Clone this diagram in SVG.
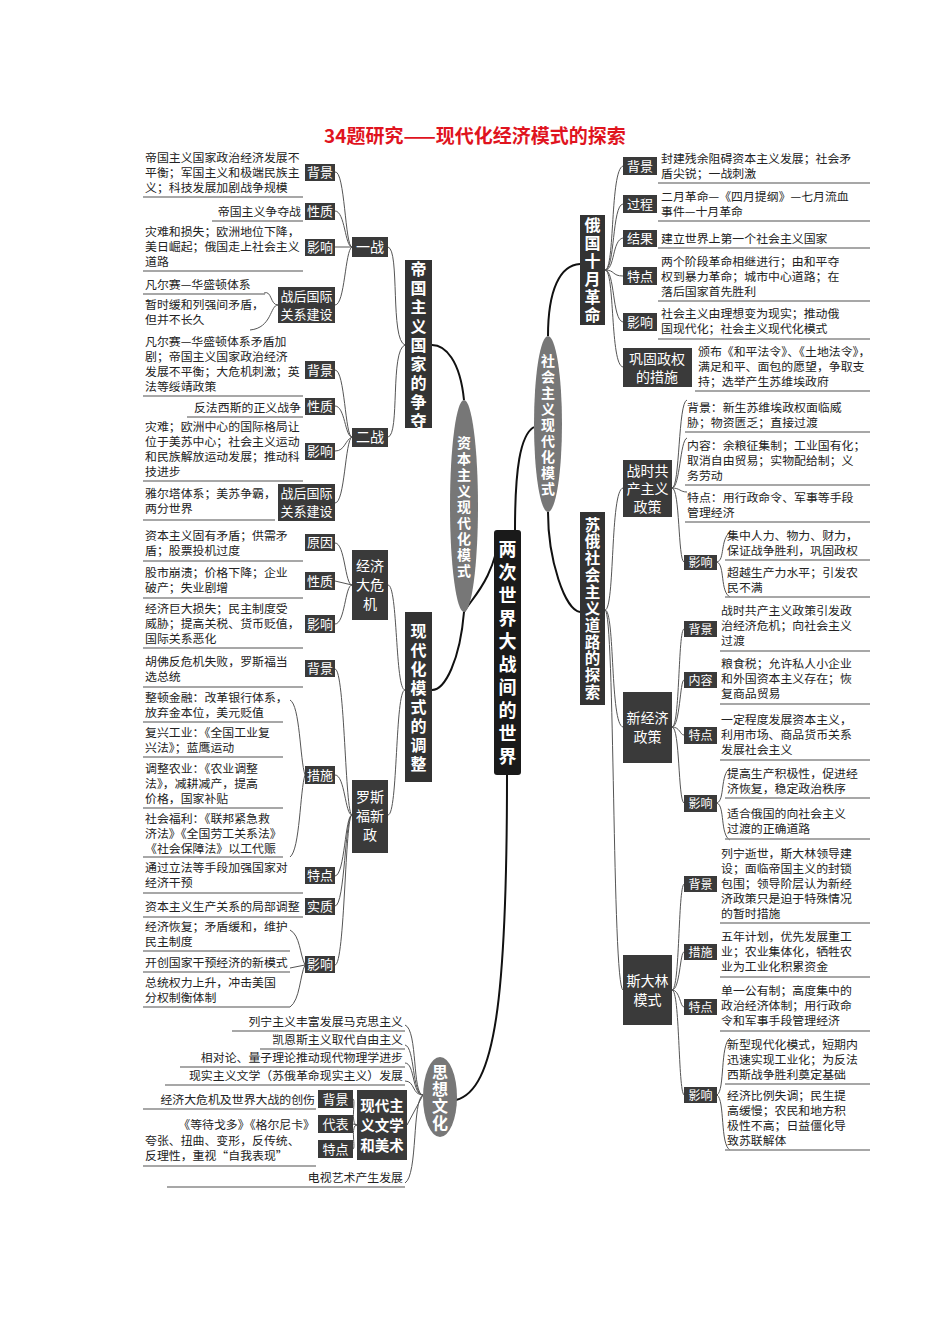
<svg xmlns="http://www.w3.org/2000/svg" width="950" height="1344" viewBox="0 0 950 1344">
<style>
.t{font-family:"Noto Sans CJK SC","Noto Sans",sans-serif;font-size:11.9px;fill:#222}
.r{text-anchor:end}
.lb rect,.bx rect{fill:#3a3a3a}
.lb text{font-family:"Noto Sans CJK SC",sans-serif;font-size:13px;fill:#fff;text-anchor:middle}
.bx text{font-family:"Noto Sans CJK SC",sans-serif;font-size:14px;fill:#fff;text-anchor:middle}
.v{font-family:"Noto Sans CJK SC",sans-serif;font-weight:bold;fill:#fff;text-anchor:middle;writing-mode:vertical-rl}
.u line{stroke:#8a8a8a;stroke-width:1.3}
.c path{stroke:#555;stroke-width:1;fill:none}
.m path{stroke:#111;stroke-width:2;fill:none}
</style>
<rect width="950" height="1344" fill="#fff"/>
<text x="475" y="143" text-anchor="middle" style="font-family:'Noto Sans CJK SC',sans-serif;font-size:19px;font-weight:bold;fill:#e0141e">34题研究——现代化经济模式的探索</text>

<g class="m" id="main-connectors">
<path d="M500,530 C495,580 470,600 464,612"/>
<path d="M515,530 C515,470 520,435 534,427"/>
<path d="M507,775 C507,1000 495,1090 456,1100"/>
<path d="M464,400 C460,360 445,345 432,345"/>
<path d="M464,612 C460,660 445,690 432,690"/>
<path d="M548,336 C548,290 560,265 580,264"/>
<path d="M548,512 C548,560 565,610 580,612"/>
</g>

<g class="c" id="connectors">
<path d="M405,345 C390,340 400,250 388,247"/>
<path d="M405,345 C390,350 400,435 388,437"/>
<path d="M352,247 C345,247 345,170 335,172"/>
<path d="M352,247 L335,247"/>
<path d="M352,247 C345,247 345,211 335,211"/>
<path d="M352,247 C345,250 345,305 335,305"/>
<path d="M352,437 C345,437 345,370 335,370"/>
<path d="M352,437 C345,437 345,406 335,406"/>
<path d="M352,437 C345,440 345,451 335,451"/>
<path d="M352,437 C345,440 345,503 335,503"/>
<path d="M278,305 C270,305 272,290 264,293"/>
<path d="M278,305 C270,305 272,328 250,330"/>
<path d="M405,690 C395,690 398,585 388,585"/>
<path d="M405,690 C395,690 398,815 388,815"/>
<path d="M352,585 C345,585 345,543 335,543"/>
<path d="M352,585 L335,581"/>
<path d="M352,585 C345,585 345,624 335,624"/>
<path d="M352,815 C345,815 345,670 335,669"/>
<path d="M352,815 C345,815 345,775 335,775"/>
<path d="M352,815 C345,815 345,875 335,876"/>
<path d="M352,815 C345,815 345,906 335,906"/>
<path d="M352,815 C345,815 345,965 335,965"/>
<path d="M305,775 C300,760 300,705 290,700"/>
<path d="M305,775 C300,790 300,850 290,857"/>
<path d="M305,965 C300,955 300,935 290,930"/>
<path d="M305,965 L290,968"/>
<path d="M305,965 C300,975 300,1000 290,1007"/>
<path d="M423,1095 C412,1095 418,1030 405,1025"/>
<path d="M423,1095 C412,1095 415,1047 405,1045"/>
<path d="M423,1095 C412,1095 415,1063 405,1063"/>
<path d="M423,1095 C412,1095 415,1081 405,1081"/>
<path d="M423,1095 L407,1125"/>
<path d="M423,1095 C412,1100 418,1175 405,1183"/>
<path d="M357,1125 C350,1125 356,1099 353,1099"/>
<path d="M357,1125 L353,1124"/>
<path d="M357,1125 C350,1125 356,1149 353,1149"/>
<path d="M605,270 C615,270 610,170 623,166"/>
<path d="M605,270 C615,270 612,205 623,204"/>
<path d="M605,270 C615,270 612,240 623,238"/>
<path d="M605,270 C615,270 612,276 623,276"/>
<path d="M605,270 C615,270 612,320 623,322"/>
<path d="M605,270 C615,270 610,365 623,367"/>
<path d="M605,610 C615,610 610,490 623,488"/>
<path d="M605,610 C615,610 610,725 623,727"/>
<path d="M605,610 C615,610 612,985 623,990"/>
<path d="M672,488 C680,488 678,402 687,400"/>
<path d="M672,488 C680,488 680,440 687,438"/>
<path d="M672,488 C680,488 680,492 687,492"/>
<path d="M672,488 C680,488 678,560 684,562"/>
<path d="M717,562 C725,560 720,540 730,532"/>
<path d="M717,562 C725,565 720,592 730,597"/>
<path d="M672,727 C680,727 678,630 684,629"/>
<path d="M672,727 C680,727 680,680 684,680"/>
<path d="M672,727 C680,727 680,735 684,735"/>
<path d="M672,727 C680,727 678,800 684,803"/>
<path d="M717,803 C725,800 720,775 730,768"/>
<path d="M717,803 C725,806 720,835 730,840"/>
<path d="M672,990 C680,990 678,888 684,884"/>
<path d="M672,990 C680,990 680,952 684,952"/>
<path d="M672,990 C680,990 680,1007 684,1007"/>
<path d="M672,990 C680,990 678,1090 684,1095"/>
<path d="M717,1095 C725,1090 720,1045 730,1038"/>
<path d="M717,1095 C725,1100 720,1145 730,1150"/>
</g>

<g id="center">
<rect x="494" y="530" width="27" height="245" rx="3" fill="#1a1a1a"/>
<text x="507.5" y="655" class="v" style="font-size:18px;letter-spacing:5px">两次世界大战间的世界</text>
</g>
<g id="capitalism">
<ellipse cx="464" cy="506" rx="14" ry="106" fill="#777"/>
<text x="464" y="508" class="v" style="font-size:14px;letter-spacing:2px">资本主义现代化模式</text>
</g>
<g id="socialism">
<ellipse cx="548" cy="424" rx="14" ry="88" fill="#777"/>
<text x="548" y="426" class="v" style="font-size:14px;letter-spacing:2px">社会主义现代化模式</text>
</g>
<g id="culture">
<ellipse cx="440" cy="1097" rx="17" ry="40" fill="#777"/>
<text x="440" y="1098" class="v" style="font-size:16px;letter-spacing:1px">思想文化</text>
</g>

<g id="imperial"><rect x="405" y="260" width="27" height="168" fill="#333"/><text x="418.5" y="346" class="v" style="font-size:16px;letter-spacing:3px">帝国主义国家的争夺</text></g>
<g id="adjust"><rect x="405" y="612" width="27" height="170" fill="#333"/><text x="418.5" y="699" class="v" style="font-size:16px;letter-spacing:3px">现代化模式的调整</text></g>
<g id="october"><rect x="580" y="215" width="25" height="110" fill="#333"/><text x="592.5" y="271" class="v" style="font-size:16px;letter-spacing:2px">俄国十月革命</text></g>
<g id="soviet"><rect x="580" y="512" width="25" height="193" fill="#333"/><text x="592.5" y="609" class="v" style="font-size:15.5px;letter-spacing:1.2px">苏俄社会主义道路的探索</text></g>

<g class="bx" id="ww1"><rect x="352" y="237" width="36" height="20"/><text x="370" y="252">一战</text></g>
<g class="bx" id="ww2"><rect x="352" y="428" width="36" height="19"/><text x="370" y="442">二战</text></g>
<g class="bx" id="crisis"><rect x="352" y="550" width="36" height="70"/><text x="370" y="571">经济</text><text x="370" y="590">大危</text><text x="370" y="609">机</text></g>
<g class="bx" id="newdeal"><rect x="352" y="780" width="36" height="73"/><text x="370" y="802">罗斯</text><text x="370" y="821">福新</text><text x="370" y="840">政</text></g>
<g class="bx" id="modernism"><rect x="357" y="1090" width="50" height="70"/><text x="382" y="1111" style="font-weight:bold;font-size:14.5px">现代主</text><text x="382" y="1131" style="font-weight:bold;font-size:14.5px">义文学</text><text x="382" y="1151" style="font-weight:bold;font-size:14.5px">和美术</text></g>
<g class="bx" id="consolidate"><rect x="623" y="348" width="69" height="39"/><text x="657" y="364">巩固政权</text><text x="657" y="382">的措施</text></g>
<g class="bx" id="warcomm"><rect x="623" y="460" width="49" height="57"/><text x="647.5" y="476">战时共</text><text x="647.5" y="494">产主义</text><text x="647.5" y="512">政策</text></g>
<g class="bx" id="nep"><rect x="623" y="692" width="49" height="71"/><text x="647.5" y="723">新经济</text><text x="647.5" y="742">政策</text></g>
<g class="bx" id="stalin"><rect x="623" y="955" width="49" height="70"/><text x="647.5" y="986">斯大林</text><text x="647.5" y="1005">模式</text></g>

<g class="lb" id="labels">
<rect x="305" y="164" width="30" height="17"/><text x="320" y="177">背景</text>
<rect x="305" y="203" width="30" height="17"/><text x="320" y="216">性质</text>
<rect x="305" y="239" width="30" height="17"/><text x="320" y="252">影响</text>
<rect x="278" y="287" width="57" height="36"/><text x="306.5" y="301">战后国际</text><text x="306.5" y="319">关系建设</text>
<rect x="305" y="361" width="30" height="18"/><text x="320" y="375">背景</text>
<rect x="305" y="398" width="30" height="17"/><text x="320" y="411">性质</text>
<rect x="305" y="443" width="30" height="17"/><text x="320" y="456">影响</text>
<rect x="278" y="484" width="57" height="37"/><text x="306.5" y="498">战后国际</text><text x="306.5" y="516">关系建设</text>
<rect x="305" y="534" width="30" height="17"/><text x="320" y="547">原因</text>
<rect x="305" y="572" width="30" height="18"/><text x="320" y="586">性质</text>
<rect x="305" y="615" width="30" height="18"/><text x="320" y="629">影响</text>
<rect x="305" y="660" width="30" height="17"/><text x="320" y="673">背景</text>
<rect x="305" y="766" width="30" height="18"/><text x="320" y="780">措施</text>
<rect x="305" y="867" width="30" height="17"/><text x="320" y="880">特点</text>
<rect x="305" y="898" width="30" height="17"/><text x="320" y="911">实质</text>
<rect x="305" y="956" width="30" height="17"/><text x="320" y="969">影响</text>
<rect x="318" y="1090" width="35" height="18"/><text x="335.5" y="1104">背景</text>
<rect x="318" y="1115" width="35" height="18"/><text x="335.5" y="1129">代表</text>
<rect x="318" y="1140" width="35" height="18"/><text x="335.5" y="1154">特点</text>
<rect x="623" y="157" width="34" height="18"/><text x="640" y="171">背景</text>
<rect x="623" y="195" width="34" height="18"/><text x="640" y="209">过程</text>
<rect x="623" y="230" width="34" height="17"/><text x="640" y="243">结果</text>
<rect x="623" y="267" width="34" height="18"/><text x="640" y="281">特点</text>
<rect x="623" y="313" width="34" height="18"/><text x="640" y="327">影响</text>
<rect x="684" y="555" width="33" height="15"/><text x="700.5" y="567" style="font-size:12px">影响</text>
<rect x="684" y="621" width="33" height="16"/><text x="700.5" y="634" style="font-size:12px">背景</text>
<rect x="684" y="672" width="33" height="16"/><text x="700.5" y="685" style="font-size:12px">内容</text>
<rect x="684" y="727" width="33" height="17"/><text x="700.5" y="740" style="font-size:12px">特点</text>
<rect x="684" y="795" width="33" height="17"/><text x="700.5" y="808" style="font-size:12px">影响</text>
<rect x="684" y="876" width="33" height="16"/><text x="700.5" y="889" style="font-size:12px">背景</text>
<rect x="684" y="944" width="33" height="16"/><text x="700.5" y="957" style="font-size:12px">措施</text>
<rect x="684" y="999" width="33" height="16"/><text x="700.5" y="1012" style="font-size:12px">特点</text>
<rect x="684" y="1087" width="33" height="16"/><text x="700.5" y="1100" style="font-size:12px">影响</text>
</g>

<g class="u" id="underlines">
<line x1="143" y1="197" x2="303" y2="197"/><line x1="212" y1="221" x2="303" y2="221"/><line x1="143" y1="271" x2="303" y2="271"/><line x1="143" y1="294" x2="265" y2="294"/>
<line x1="143" y1="396" x2="303" y2="396"/><line x1="187" y1="417" x2="303" y2="417"/><line x1="143" y1="481" x2="303" y2="481"/><line x1="143" y1="520" x2="275" y2="520"/>
<line x1="143" y1="561" x2="303" y2="561"/><line x1="143" y1="598" x2="303" y2="598"/><line x1="143" y1="648" x2="303" y2="648"/><line x1="143" y1="687" x2="303" y2="687"/>
<line x1="143" y1="722" x2="283" y2="722"/><line x1="143" y1="757" x2="283" y2="757"/><line x1="143" y1="808" x2="283" y2="808"/><line x1="143" y1="857" x2="283" y2="857"/>
<line x1="143" y1="893" x2="303" y2="893"/><line x1="143" y1="917" x2="303" y2="917"/><line x1="143" y1="951" x2="290" y2="951"/><line x1="143" y1="972" x2="290" y2="972"/><line x1="143" y1="1007" x2="290" y2="1007"/>
<line x1="232" y1="1031" x2="405" y2="1031"/><line x1="260" y1="1049" x2="405" y2="1049"/><line x1="180" y1="1067" x2="405" y2="1067"/><line x1="165" y1="1085" x2="405" y2="1085"/>
<line x1="143" y1="1109" x2="316" y2="1109"/><line x1="143" y1="1166" x2="316" y2="1166"/><line x1="167" y1="1187" x2="405" y2="1187"/>
<line x1="658" y1="183" x2="870" y2="183"/><line x1="658" y1="221" x2="870" y2="221"/><line x1="658" y1="248" x2="870" y2="248"/><line x1="658" y1="301" x2="870" y2="301"/><line x1="658" y1="339" x2="870" y2="339"/><line x1="695" y1="391" x2="870" y2="391"/>
<line x1="685" y1="432" x2="870" y2="432"/><line x1="685" y1="485" x2="870" y2="485"/><line x1="685" y1="522" x2="870" y2="522"/><line x1="725" y1="560" x2="870" y2="560"/><line x1="725" y1="597" x2="870" y2="597"/>
<line x1="720" y1="651" x2="870" y2="651"/><line x1="720" y1="704" x2="870" y2="704"/><line x1="720" y1="760" x2="870" y2="760"/><line x1="725" y1="798" x2="870" y2="798"/><line x1="725" y1="839" x2="870" y2="839"/>
<line x1="720" y1="923" x2="870" y2="923"/><line x1="720" y1="977" x2="870" y2="977"/><line x1="720" y1="1031" x2="870" y2="1031"/><line x1="725" y1="1084" x2="870" y2="1084"/><line x1="725" y1="1150" x2="870" y2="1150"/>
</g>

<g id="texts">
<text class="t" x="145" y="162">帝国主义国家政治经济发展不</text><text class="t" x="145" y="177">平衡；军国主义和极端民族主</text><text class="t" x="145" y="192">义；科技发展加剧战争规模</text>
<text class="t r" x="301" y="216">帝国主义争夺战</text>
<text class="t" x="145" y="236">灾难和损失；欧洲地位下降，</text><text class="t" x="145" y="251">美日崛起；俄国走上社会主义</text><text class="t" x="145" y="266">道路</text>
<text class="t" x="145" y="289">凡尔赛—华盛顿体系</text><text class="t" x="145" y="309">暂时缓和列强间矛盾，</text><text class="t" x="145" y="324">但并不长久</text>
<text class="t" x="145" y="346">凡尔赛—华盛顿体系矛盾加</text><text class="t" x="145" y="361">剧；帝国主义国家政治经济</text><text class="t" x="145" y="376">发展不平衡；大危机刺激；英</text><text class="t" x="145" y="391">法等绥靖政策</text>
<text class="t r" x="301" y="412">反法西斯的正义战争</text>
<text class="t" x="145" y="431">灾难；欧洲中心的国际格局让</text><text class="t" x="145" y="446">位于美苏中心；社会主义运动</text><text class="t" x="145" y="461">和民族解放运动发展；推动科</text><text class="t" x="145" y="476">技进步</text>
<text class="t" x="145" y="498">雅尔塔体系；美苏争霸，</text><text class="t" x="145" y="513">两分世界</text>
<text class="t" x="145" y="540">资本主义固有矛盾；供需矛</text><text class="t" x="145" y="555">盾；股票投机过度</text>
<text class="t" x="145" y="577">股市崩溃；价格下降；企业</text><text class="t" x="145" y="592">破产；失业剧增</text>
<text class="t" x="145" y="613">经济巨大损失；民主制度受</text><text class="t" x="145" y="628">威胁；提高关税、货币贬值，</text><text class="t" x="145" y="643">国际关系恶化</text>
<text class="t" x="145" y="666">胡佛反危机失败，罗斯福当</text><text class="t" x="145" y="681">选总统</text>
<text class="t" x="145" y="702">整顿金融：改革银行体系，</text><text class="t" x="145" y="717">放弃金本位，美元贬值</text>
<text class="t" x="145" y="737">复兴工业：《全国工业复</text><text class="t" x="145" y="752">兴法》；蓝鹰运动</text>
<text class="t" x="145" y="773">调整农业：《农业调整</text><text class="t" x="145" y="788">法》，减耕减产，提高</text><text class="t" x="145" y="803">价格，国家补贴</text>
<text class="t" x="145" y="823">社会福利：《联邦紧急救</text><text class="t" x="145" y="838">济法》《全国劳工关系法》</text><text class="t" x="145" y="853">《社会保障法》以工代赈</text>
<text class="t" x="145" y="872">通过立法等手段加强国家对</text><text class="t" x="145" y="887">经济干预</text>
<text class="t" x="145" y="911">资本主义生产关系的局部调整</text>
<text class="t" x="145" y="931">经济恢复；矛盾缓和，维护</text><text class="t" x="145" y="946">民主制度</text>
<text class="t" x="145" y="967">开创国家干预经济的新模式</text>
<text class="t" x="145" y="987">总统权力上升，冲击美国</text><text class="t" x="145" y="1002">分权制衡体制</text>
<text class="t r" x="403" y="1026">列宁主义丰富发展马克思主义</text>
<text class="t r" x="403" y="1044">凯恩斯主义取代自由主义</text>
<text class="t r" x="403" y="1062">相对论、量子理论推动现代物理学进步</text>
<text class="t r" x="403" y="1080">现实主义文学（苏俄革命现实主义）发展</text>
<text class="t r" x="315" y="1104">经济大危机及世界大战的创伤</text>
<text class="t r" x="315" y="1129">《等待戈多》《格尔尼卡》</text>
<text class="t" x="145" y="1145">夸张、扭曲、变形，反传统、</text><text class="t" x="145" y="1160">反理性，重视“自我表现”</text>
<text class="t r" x="403" y="1182">电视艺术产生发展</text>

<text class="t" x="661" y="163">封建残余阻碍资本主义发展；社会矛</text><text class="t" x="661" y="178">盾尖锐；一战刺激</text>
<text class="t" x="661" y="201">二月革命—《四月提纲》—七月流血</text><text class="t" x="661" y="216">事件—十月革命</text>
<text class="t" x="661" y="243">建立世界上第一个社会主义国家</text>
<text class="t" x="661" y="266">两个阶段革命相继进行；由和平夺</text><text class="t" x="661" y="281">权到暴力革命；城市中心道路；在</text><text class="t" x="661" y="296">落后国家首先胜利</text>
<text class="t" x="661" y="318">社会主义由理想变为现实；推动俄</text><text class="t" x="661" y="333">国现代化；社会主义现代化模式</text>
<text class="t" x="698" y="356">颁布《和平法令》、《土地法令》，</text><text class="t" x="698" y="371">满足和平、面包的愿望，争取支</text><text class="t" x="698" y="386">持；选举产生苏维埃政府</text>
<text class="t" x="687" y="412">背景：新生苏维埃政权面临威</text><text class="t" x="687" y="427">胁；物资匮乏；直接过渡</text>
<text class="t" x="687" y="450">内容：余粮征集制；工业国有化；</text><text class="t" x="687" y="465">取消自由贸易；实物配给制；义</text><text class="t" x="687" y="480">务劳动</text>
<text class="t" x="687" y="502">特点：用行政命令、军事等手段</text><text class="t" x="687" y="517">管理经济</text>
<text class="t" x="727" y="540">集中人力、物力、财力，</text><text class="t" x="727" y="555">保证战争胜利，巩固政权</text>
<text class="t" x="727" y="577">超越生产力水平；引发农</text><text class="t" x="727" y="592">民不满</text>
<text class="t" x="721" y="615">战时共产主义政策引发政</text><text class="t" x="721" y="630">治经济危机；向社会主义</text><text class="t" x="721" y="645">过渡</text>
<text class="t" x="721" y="668">粮食税；允许私人小企业</text><text class="t" x="721" y="683">和外国资本主义存在；恢</text><text class="t" x="721" y="698">复商品贸易</text>
<text class="t" x="721" y="724">一定程度发展资本主义，</text><text class="t" x="721" y="739">利用市场、商品货币关系</text><text class="t" x="721" y="754">发展社会主义</text>
<text class="t" x="727" y="778">提高生产积极性，促进经</text><text class="t" x="727" y="793">济恢复，稳定政治秩序</text>
<text class="t" x="727" y="818">适合俄国的向社会主义</text><text class="t" x="727" y="833">过渡的正确道路</text>
<text class="t" x="721" y="858">列宁逝世，斯大林领导建</text><text class="t" x="721" y="873">设；面临帝国主义的封锁</text><text class="t" x="721" y="888">包围；领导阶层认为新经</text><text class="t" x="721" y="903">济政策只是迫于特殊情况</text><text class="t" x="721" y="918">的暂时措施</text>
<text class="t" x="721" y="941">五年计划，优先发展重工</text><text class="t" x="721" y="956">业；农业集体化，牺牲农</text><text class="t" x="721" y="971">业为工业化积累资金</text>
<text class="t" x="721" y="995">单一公有制；高度集中的</text><text class="t" x="721" y="1010">政治经济体制；用行政命</text><text class="t" x="721" y="1025">令和军事手段管理经济</text>
<text class="t" x="727" y="1049">新型现代化模式，短期内</text><text class="t" x="727" y="1064">迅速实现工业化；为反法</text><text class="t" x="727" y="1079">西斯战争胜利奠定基础</text>
<text class="t" x="727" y="1100">经济比例失调；民生提</text><text class="t" x="727" y="1115">高缓慢；农民和地方积</text><text class="t" x="727" y="1130">极性不高；日益僵化导</text><text class="t" x="727" y="1145">致苏联解体</text>
</g>
</svg>
